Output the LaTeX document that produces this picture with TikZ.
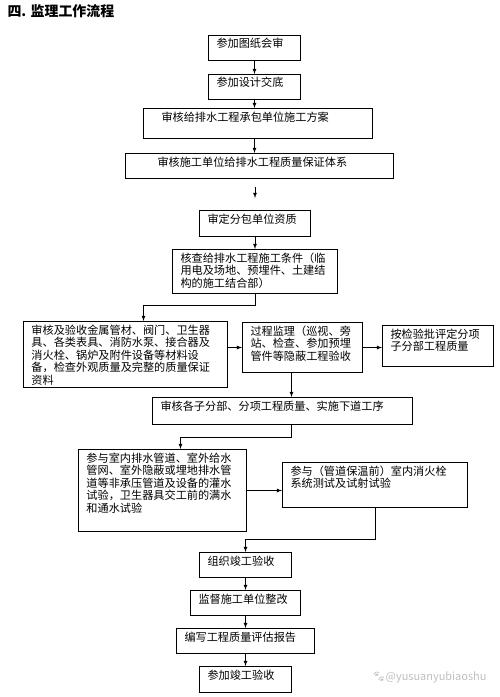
\documentclass[tikz,border=0pt]{standalone}
\usepackage{fontspec}
\setmainfont{Noto Sans CJK SC}
\newfontfamily\emoji{Noto Emoji}
\usepackage{tikz}
\usetikzlibrary{arrows}

\begin{document}
\begin{tikzpicture}[
  stepbox/.style={draw,line width=1pt,anchor=north west,align=left,inner xsep=8bp,inner ysep=3.5bp,text height=9bp,font=\fontsize{11.2}{12.6}\selectfont},
  flow/.style={->,>=latex,line width=0.8pt}]
\useasboundingbox (0,0) rectangle (500bp,-697bp);

\node (T) at (4bp,-11bp)[anchor=west,font=\fontsize{14}{16}\selectfont\bfseries] {四. 监理工作流程};

\node (B1) at (208bp,-35bp)[stepbox,text width=76bp,text depth=9bp] {参加图纸会审};
\node (B2) at (208bp,-74bp)[stepbox,text width=76bp,text depth=9bp] {参加设计交底};
\node (B3) at (143bp,-108bp)[stepbox,text width=213bp,text depth=14bp] {\hspace{10bp}审核给排水工程承包单位施工方案};
\node (B4) at (125bp,-153bp)[stepbox,text width=252bp,text depth=9bp] {\hspace{24bp}审核施工单位给排水工程质量保证体系};
\node (B5) at (199bp,-210bp)[stepbox,text width=95bp,text depth=10bp] {审定分包单位资质};
\node (B6) at (172bp,-249bp)[stepbox,text width=149bp,text depth=28bp] {核查给排水工程施工条件（临\\用电及场地、预埋件、土建结\\构的施工结合部）};
\node (B7) at (23bp,-321bp)[stepbox,text width=188bp,text depth=50bp] {审核及验收金属管材、阀门、卫生器\\具、各类表具、消防水泵、接合器及\\消火栓、锅炉及附件设备等材料设\\备，检查外观质量及完整的质量保证\\资料};
\node (B8) at (242bp,-322bp)[stepbox,text width=104bp,text depth=34bp] {过程监理（巡视、旁\\站、检查、参加预埋\\管件等隐蔽工程验收};
\node (B9) at (382bp,-325bp)[stepbox,text width=95bp,text depth=25bp] {按检验批评定分项\\子分部工程质量};
\node (B10) at (152bp,-397bp)[stepbox,text width=244bp,text depth=11bp] {审核各子分部、分项工程质量、实施下道工序};
\node (B11) at (78bp,-449bp)[stepbox,text width=152bp,text depth=66bp] {参与室内排水管道、室外给水\\管网、室外隐蔽或埋地排水管\\道等非承压管道及设备的灌水\\试验，卫生器具交工前的满水\\和通水试验};
\node (B12) at (282bp,-462bp)[stepbox,text width=169bp,text depth=29bp] {参与（管道保温前）室内消火栓\\系统测试及试射试验};
\node (B13) at (199bp,-552bp)[stepbox,text width=76bp,text depth=9bp] {组织竣工验收};
\node (B14) at (190bp,-590bp)[stepbox,text width=94bp,text depth=9bp] {监督施工单位整改};
\node (B15) at (176bp,-628bp)[stepbox,text width=122bp,text depth=9bp] {编写工程质量评估报告};
\node (B16) at (199bp,-666bp)[stepbox,text width=76bp,text depth=10bp] {参加竣工验收};

\node (W) at (490bp,-677bp)[anchor=east,text=black!25,font=\fontsize{11}{12}\selectfont] {{\emoji 🐾}@yusuanyubiaoshu};

\draw [flow] (B1.south) to (B2.north);
\draw [flow] (B2.south) to (B2.south |- B3.north);
\draw [flow] (B2.south |- B3.south) to (B2.south |- B4.north);
\draw [flow,shorten <=8bp,shorten >=12bp] (B5.north |- B4.south) to (B5.north);
\draw [flow] (B5.south) to (B5.south |- B6.north);
\draw [flow] (B6.south) -- ++(0,-11bp) -| ([xshift=18bp]B7.north);
\draw [flow] (B7.east |- B8.west) to (B8.west);
\draw [flow] (B8.east) to (B8.east -| B9.west);
\draw [flow] ([xshift=-11bp]B8.south) to ([xshift=-11bp]B8.south |- B10.north);
\draw [flow] ([xshift=9bp]B10.south) -- ++(0,-12bp) -| ([xshift=18bp]B11.north);
\draw [flow] (B11.east) to (B11.east -| B12.west);
\draw [flow] (B12.south) -- ++(0,-31bp) -| (B13.north);
\draw [flow] (B13.south) to (B14.north);
\draw [flow] (B14.south) to (B15.north);
\draw [flow] (B15.south) to (B16.north);
\end{tikzpicture}
\end{document}
